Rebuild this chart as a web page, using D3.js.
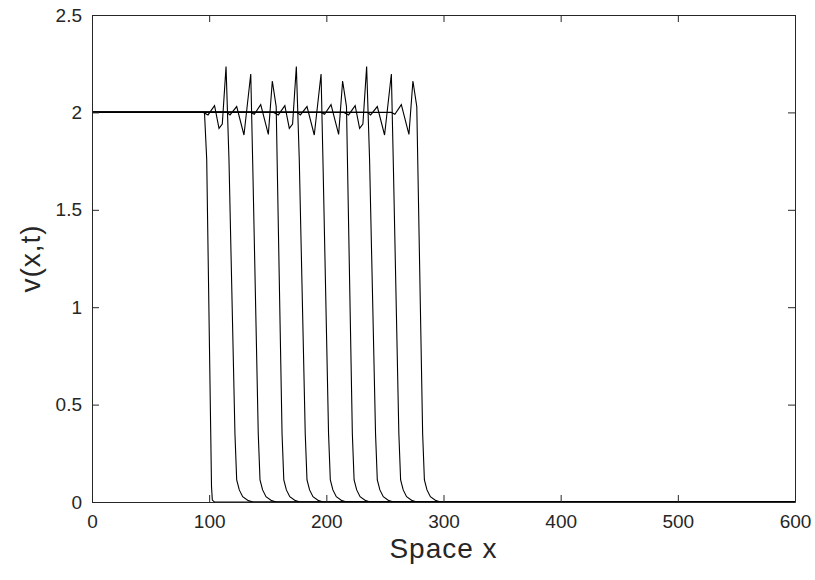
<!DOCTYPE html>
<html>
<head>
<meta charset="utf-8">
<script src="https://cdn.jsdelivr.net/npm/d3@7"></script>
<style>
  body { margin: 0; background: #fff; }
  svg { font-family: "Liberation Sans", Arial, Helvetica, sans-serif; }
  .axis path, .axis line { stroke: #262626; }
  .axis text { fill: #262626; font-size: 19px; }
  .wave { fill: none; stroke: #000; stroke-width: 1.1; }
</style>
</head>
<body>
<svg width="815" height="580"></svg>
<script>
// profiles v(x,t), one per time step
const wave1 = [[0,2],[96.0,2],[97.9,1.76],[101.3,0.37],[102.0,0.08],[102.7,0.01],[104.5,0],[600,0]];
const wave2 = [[0,2],[95,2],[99.0,1.987],[104.6,2.035],[108.4,1.918],[111.2,1.94],[114.4,2.235],[116.9,1.76],[122.0,0.35],[123.5,0.113],[125.7,0.062],[128.6,0.027],[133.4,0.007],[137.4,0],[600,0]];
const wave3 = [[0,2],[115,2],[117.8,1.987],[123.5,2.03],[129.7,1.884],[135.5,2.197],[137.2,1.73],[141.9,0.35],[143.4,0.113],[145.6,0.062],[148.5,0.027],[153.3,0.007],[157.3,0],[600,0]];
const wave4 = [[0,2],[135.5,2],[138.5,1.99],[144.0,2.04],[150.5,1.887],[153.9,2.161],[157.2,2.03],[158.0,1.76],[162.2,0.35],[163.7,0.113],[165.9,0.062],[168.8,0.027],[173.6,0.007],[177.6,0],[600,0]];
const wave5 = [[0,2],[155,2],[159.0,1.987],[164.6,2.035],[168.4,1.918],[171.2,1.94],[174.4,2.235],[176.9,1.76],[182.0,0.35],[183.5,0.113],[185.7,0.062],[188.6,0.027],[193.4,0.007],[197.4,0],[600,0]];
const wave6 = [[0,2],[175,2],[177.8,1.987],[183.5,2.03],[189.7,1.884],[195.5,2.197],[197.2,1.73],[201.9,0.35],[203.4,0.113],[205.6,0.062],[208.5,0.027],[213.3,0.007],[217.3,0],[600,0]];
const wave7 = [[0,2],[195.5,2],[198.5,1.99],[204.0,2.04],[210.5,1.887],[213.9,2.161],[217.2,2.03],[218.0,1.76],[222.2,0.35],[223.7,0.113],[225.9,0.062],[228.8,0.027],[233.6,0.007],[237.6,0],[600,0]];
const wave8 = [[0,2],[215,2],[219.0,1.987],[224.6,2.035],[228.4,1.918],[231.2,1.94],[234.4,2.235],[236.9,1.76],[242.0,0.35],[243.5,0.113],[245.7,0.062],[248.6,0.027],[253.4,0.007],[257.4,0],[600,0]];
const wave9 = [[0,2],[235,2],[237.8,1.987],[243.5,2.03],[249.7,1.884],[255.5,2.197],[257.2,1.73],[261.9,0.35],[263.4,0.113],[265.6,0.062],[268.5,0.027],[273.3,0.007],[277.3,0],[600,0]];
const wave10 = [[0,2],[255.5,2],[258.5,1.99],[264.0,2.04],[270.5,1.887],[273.9,2.161],[277.2,2.03],[278.0,1.76],[282.2,0.35],[283.7,0.113],[285.9,0.062],[288.8,0.027],[293.6,0.007],[297.6,0],[600,0]];
const waves = [wave1, wave2, wave3, wave4, wave5, wave6, wave7, wave8, wave9, wave10];

const xTicks = [0, 100, 200, 300, 400, 500, 600];
const yTicks = [0, 0.5, 1, 1.5, 2, 2.5];

const svg = d3.select("svg");
const margin = { top: 15, right: 20, bottom: 78, left: 92 };
const width = 815 - margin.left - margin.right;
const height = 580 - margin.top - margin.bottom;

const x = d3.scaleLinear().domain([0, 600]).range([0, width]);
const y = d3.scaleLinear().domain([0, 2.5]).range([height, 0]);

const g = svg.append("g").attr("transform", `translate(${margin.left},${margin.top})`);

const line = d3.line().x(d => x(d[0])).y(d => y(d[1]));

g.selectAll("path.wave")
  .data(waves)
  .enter()
  .append("path")
  .attr("class", "wave")
  .attr("d", line);

// box with inward ticks on all four sides
g.append("g").attr("class", "axis")
  .attr("transform", `translate(0,${height})`)
  .call(d3.axisBottom(x).tickValues(xTicks).tickSizeInner(-7).tickSizeOuter(0).tickPadding(13));
g.append("g").attr("class", "axis")
  .call(d3.axisTop(x).tickValues(xTicks).tickSizeInner(-7).tickSizeOuter(0).tickFormat(""));
g.append("g").attr("class", "axis")
  .call(d3.axisLeft(y).tickValues(yTicks).tickSizeInner(-7).tickSizeOuter(0).tickPadding(10).tickFormat(d3.format("")));
g.append("g").attr("class", "axis")
  .attr("transform", `translate(${width},0)`)
  .call(d3.axisRight(y).tickValues(yTicks).tickSizeInner(-7).tickSizeOuter(0).tickFormat(""));

svg.append("text")
  .attr("x", margin.left + width / 2)
  .attr("y", 558)
  .attr("text-anchor", "middle")
  .attr("font-size", 28)
  .attr("letter-spacing", 1)
  .attr("fill", "#262626")
  .text("Space x");

svg.append("text")
  .attr("transform", `translate(40,${margin.top + height / 2}) rotate(-90)`)
  .attr("text-anchor", "middle")
  .attr("font-size", 28)
  .attr("letter-spacing", 1)
  .attr("fill", "#262626")
  .text("v(x,t)");
</script>
</body>
</html>
